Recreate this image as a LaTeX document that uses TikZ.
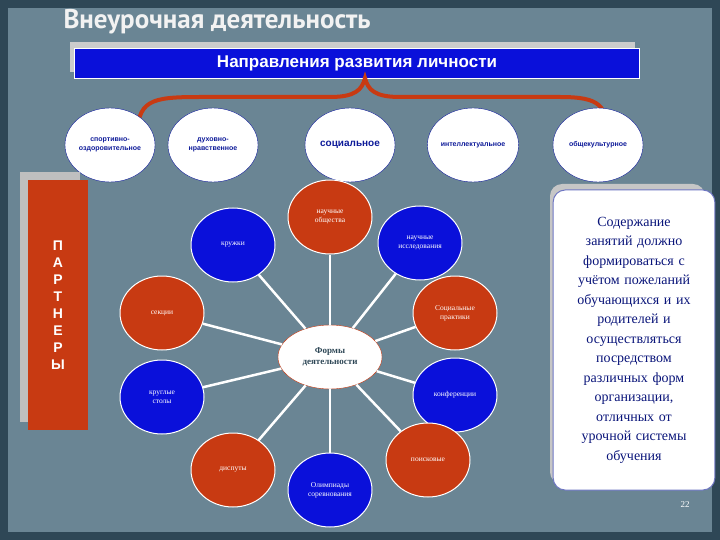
\documentclass[tikz,border=0pt]{standalone}
\usepackage{fontspec}
\setmainfont{Liberation Serif}
\newfontfamily\sans{Liberation Sans}
\newfontfamily\ttlfont{PT Sans}
\definecolor{bg}{HTML}{6A8594}
\definecolor{frame}{HTML}{2E4756}
\definecolor{rd}{HTML}{C83A12}
\definecolor{bl}{HTML}{0A10DA}
\definecolor{ttl}{HTML}{0D1A99}
\begin{document}
\begin{tikzpicture}[x=1pt,y=-1pt,
  top/.style={ellipse,draw=ttl,fill=white,minimum width=90pt,minimum height=74pt,inner sep=0pt,font=\sans\fontsize{7}{9}\selectfont\bfseries,text=ttl,align=center},
  orb/.style={draw=white,line width=1pt,inner sep=0pt,font=\fontsize{7.5}{9}\selectfont,text=white,align=center},
  redc/.style={orb,fill=rd,minimum width=84pt,minimum height=74pt,ellipse},
  bluc/.style={orb,fill=bl,minimum width=84pt,minimum height=74pt,ellipse},
  spoke/.style={draw=white,line width=2.5pt}]
\usetikzlibrary{shapes.geometric}
\fill[frame] (0,0) rectangle (720,540);
\fill[bg] (8,8) rectangle (712,532);
\node[text=white!90!gray,font=\ttlfont\fontsize{27}{29}\selectfont\bfseries,anchor=west] (title) at (60,22) {Внеурочная деятельность};
% header
\fill[gray!40] (70,42) rectangle (635,72);
\node[draw=white,fill=bl,minimum width=565pt,minimum height=30pt,text=white,font=\sans\fontsize{17}{19}\selectfont\bfseries] (hdr) at (357,63) {Направления развития личности};
% brace
\draw[rd,line width=4pt,line cap=round] (137,140) .. controls (137,100) and (150,97) .. (200,97) -- (330,97) .. controls (355,97) and (362,90) .. (365,78) .. controls (368,90) and (375,97) .. (400,97) -- (560,97) .. controls (600,97) and (608,105) .. (608,140);
\node[top] (t1) at (110,145) {спортивно-\\оздоровительное};
\node[top] (t2) at (213,145) {духовно-\\нравственное};
\node[top,font=\sans\fontsize{10}{11}\selectfont\bfseries] (t3) at (350,145) {социальное};
\node[top] (t4) at (473,145) {интеллектуальное};
\node[top] (t5) at (598,145) {общекультурное};
% left box
\fill[gray!50] (20,172) rectangle (80,422);
\node[fill=rd,minimum width=60pt,minimum height=250pt,inner sep=0pt,text=white,font=\sans\fontsize{14}{17}\selectfont\bfseries,align=center] (pt) at (58,305) {П\\А\\Р\\Т\\Н\\Е\\Р\\Ы};
% right box
\fill[gray!45,rounded corners=12pt] (550,184) rectangle (705,484);
\node[draw=ttl!60,line width=1pt,fill=white,rounded corners=12pt,minimum width=155pt,minimum height=300pt,text=ttl!80!black,font=\fontsize{14}{19.5}\selectfont,align=center,text width=155pt] (rb) at (634,340) {Содержание\\занятий должно\\формироваться с\\учётом пожеланий\\обучающихся и их\\родителей и\\осуществляться\\посредством\\различных форм\\организации,\\отличных от\\урочной системы\\обучения};
% center
\node[ellipse,draw=rd,fill=white,minimum width=104pt,minimum height=64pt,inner sep=0pt,text=frame,font=\fontsize{9}{11}\selectfont\bfseries,align=center] (c) at (330,357) {Формы\\деятельности};
\node[redc] (n1) at (330,217) {научные\\общества};
\node[bluc] (n2) at (420,243) {научные\\исследования};
\node[redc] (n3) at (455,313) {Социальные\\практики};
\node[bluc] (n4) at (455,395) {конференции};
\node[redc] (n5) at (428,460) {поисковые};
\node[bluc] (n6) at (330,490) {Олимпиады\\соревнования};
\node[redc] (n7) at (233,470) {диспуты};
\node[bluc] (n8) at (162,397) {круглые\\столы};
\node[redc] (n9) at (162,313) {секции};
\node[bluc] (n10) at (233,245) {кружки};
\foreach \n in {n1,n2,n3,n4,n5,n6,n7,n8,n9,n10} \draw[spoke] (c) -- (\n);
\node[text=white,font=\fontsize{9}{10}\selectfont] (pg) at (685,505) {22};
\end{tikzpicture}
\end{document}
